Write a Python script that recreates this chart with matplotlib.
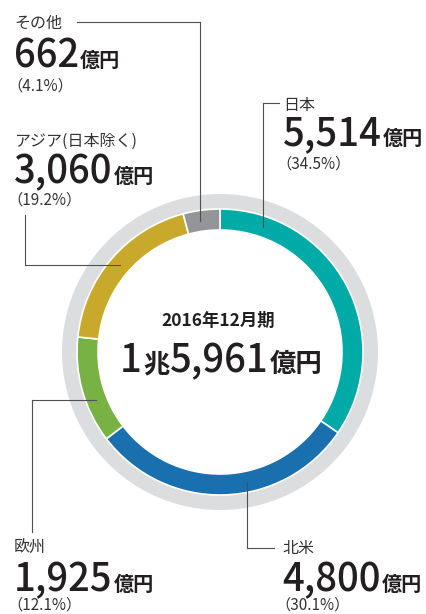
import numpy as np
import matplotlib.pyplot as plt
from matplotlib.patches import Wedge

plt.rcParams['font.family'] = ['Noto Sans CJK JP', 'DejaVu Sans']

# data (clockwise from 12 o'clock)
regions = ['日本', '北米', '欧州', 'アジア(日本除く)', 'その他']
amounts = [5514, 4800, 1925, 3060, 662]          # 億円
amount_labels = ['5,514', '4,800', '1,925', '3,060', '662']
shares = ['（34.5%）', '（30.1%）', '（12.1%）', '（19.2%）', '（4.1%）']
colors = ['#00aba7', '#1a6fae', '#78b144', '#c9a92c', '#949599']
period = '2016年12月期'
total_pieces = [('1', 'num'), ('兆', 'unit'), ('5,961', 'num'), ('億円', 'unit')]

W, H = 427, 614
cx, cy = 220, 352
r_out, r_in, r_bg = 143, 122, 158
dark = '#231f20'
grey_txt = '#333333'
line_c = '#505050'

fig = plt.figure(figsize=(W / 100, H / 100), dpi=100)
ax = fig.add_axes([0, 0, 1, 1])

# light gray outer ring
ax.add_patch(Wedge((cx, cy), r_bg, 0, 360, width=r_bg - r_out + 2,
                   facecolor='#dcdddf', edgecolor='none'))

# donut (y axis is flipped, so counterclock=True draws clockwise on screen)
ax.pie(amounts, colors=colors, center=(cx, cy), radius=r_out,
       startangle=-90, counterclock=True,
       wedgeprops=dict(width=r_out - r_in, edgecolor='white', linewidth=1.2))

ax.set_xlim(0, W)
ax.set_ylim(H, 0)
ax.set_aspect('equal')
ax.axis('off')

renderer = fig.canvas.get_renderer()


def draw_pieces(x, y, pieces, num_size, unit_size, gap=1):
    # pieces drawn left to right on a common baseline
    for txt, kind in pieces:
        if kind == 'num':
            t = ax.text(x, y, txt, fontsize=num_size, color=dark, va='baseline', ha='left',
                        fontweight='medium')
        else:
            t = ax.text(x, y, txt, fontsize=unit_size, color=dark, va='baseline', ha='left',
                        fontweight='bold')
        bb = t.get_window_extent(renderer)
        x = ax.transData.inverted().transform((bb.x1, bb.y0))[0] + gap
    return x


# mid-ring point on a vertical / horizontal leader
r_mid = (r_out + r_in) / 2


def ring_y(x, upper=True):
    d = np.sqrt(r_mid ** 2 - (x - cx) ** 2)
    return cy - d if upper else cy + d


def ring_x(y, left=True):
    d = np.sqrt(r_mid ** 2 - (y - cy) ** 2)
    return cx - d if left else cx + d


# label blocks: (index, x, label baseline, number baseline, pct baseline)
blocks = [
    (0, 283, 110, 145, 169),
    (1, 282, 553, 591, 610),
    (2, 14, 552, 591, 610),
    (3, 14, 146, 183, 205),
    (4, 14, 28, 67, 91),
]
for i, x, yl, yn, yp in blocks:
    ax.text(x, yl, regions[i], fontsize=11.5, color=grey_txt, va='baseline', ha='left')
    draw_pieces(x, yn, [(amount_labels[i], 'num'), ('億円', 'unit')], 27.5, 14.5)
    ax.text(x - 7, yp, shares[i], fontsize=11, color=grey_txt, va='baseline', ha='left')

# leader lines
lw = 0.8
ax.plot([263, 279], [103, 103], color=line_c, lw=lw)
ax.plot([263, 263], [103, ring_y(263)], color=line_c, lw=lw)

ax.plot([247, 274], [548, 548], color=line_c, lw=lw)
ax.plot([247, 247], [548, ring_y(247, upper=False)], color=line_c, lw=lw)

ax.plot([32, 32], [532, 400], color=line_c, lw=lw)
ax.plot([32, ring_x(400)], [400, 400], color=line_c, lw=lw)

ax.plot([25, 25], [215, 265], color=line_c, lw=lw)
ax.plot([25, ring_x(265)], [265, 265], color=line_c, lw=lw)

ax.plot([77, 200], [22, 22], color=line_c, lw=lw)
ax.plot([200, 200], [22, ring_y(200)], color=line_c, lw=lw)

# centre total
ax.text(218, 326, period, fontsize=12.5, fontweight='bold', color=dark, va='baseline', ha='center')
draw_pieces(120, 372, total_pieces, 27.5, 19)

fig.savefig('out.png', dpi=100)
